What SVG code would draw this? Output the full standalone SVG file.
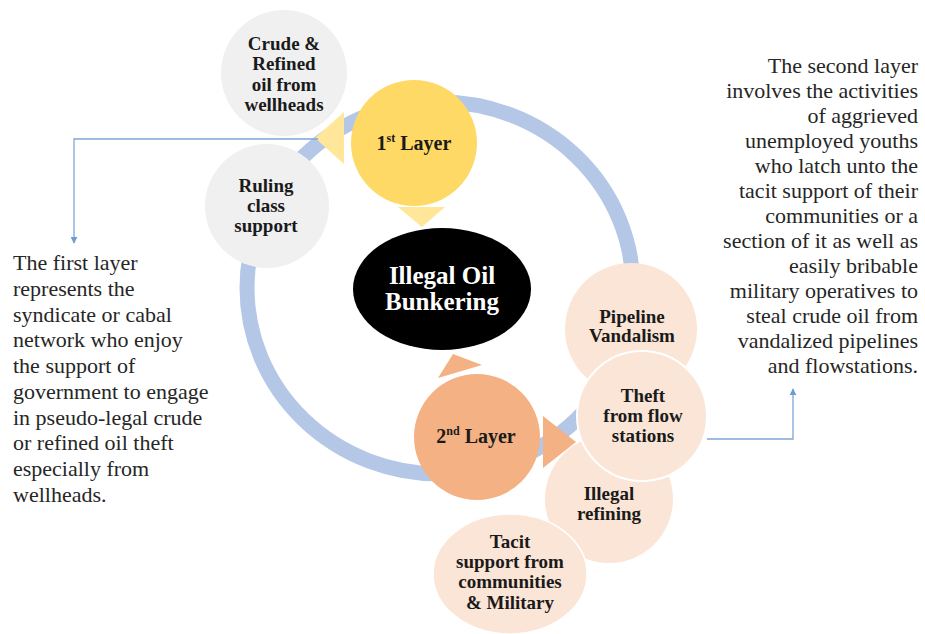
<svg xmlns="http://www.w3.org/2000/svg" width="925" height="634" viewBox="0 0 925 634">
<defs>
<style>
.lbl{font-family:"Liberation Serif","Times New Roman",serif;font-weight:bold;font-size:19px;fill:#1a1a1a;text-anchor:middle}
.big{font-family:"Liberation Serif","Times New Roman",serif;font-weight:bold;font-size:25px;fill:#ffffff;text-anchor:middle}
.desc{font-family:"Liberation Serif","Times New Roman",serif;font-size:22px;fill:#262626}
.gray{fill:#F0F0F0}
.peach{fill:#FBE5D6}
.conn{fill:none;stroke:#7FA7D9;stroke-width:1.3}
</style>
<marker id="arr" viewBox="0 0 10 10" refX="9" refY="5" markerWidth="7" markerHeight="7" orient="auto" markerUnits="userSpaceOnUse">
<path d="M0,0 L10,5 L0,10 Z" fill="#6E9BD3"/>
</marker>
</defs>
<rect width="925" height="634" fill="#ffffff"/>

<g id="ring">
<ellipse cx="440" cy="288" rx="193" ry="186" fill="none" stroke="#B4C7E7" stroke-width="15"/>
</g>

<g id="arrows">
<polygon points="315,138 344,112 344,164" fill="#FFE699"/>
<polygon points="398,207 445,207 422,227" fill="#FFE699"/>
<polygon points="453,354 482,365 438,378" fill="#F4B183"/>
<polygon points="543,416 576,442 543,468" fill="#F4B183"/>
</g>

<g id="node-crude">
<circle class="gray" cx="284" cy="73" r="63"/>
<text class="lbl"><tspan x="284" y="50">Crude &amp;</tspan><tspan x="284" y="70">Refined</tspan><tspan x="284" y="91">oil from</tspan><tspan x="284" y="111">wellheads</tspan></text>
</g>

<g id="node-ruling">
<circle class="gray" cx="267" cy="206" r="62"/>
<text class="lbl"><tspan x="266" y="192">Ruling</tspan><tspan x="266" y="212">class</tspan><tspan x="266" y="232">support</tspan></text>
</g>

<g id="node-layer1">
<circle cx="414" cy="143" r="63" fill="#FFD966"/>
<text class="lbl" x="414" y="150" style="font-size:20px">1<tspan font-size="12" dy="-8">st</tspan><tspan dy="8"> Layer</tspan></text>
</g>

<g id="node-center">
<ellipse cx="442" cy="289" rx="89" ry="61" fill="#000000"/>
<text class="big"><tspan x="442" y="284">Illegal Oil</tspan><tspan x="442" y="310">Bunkering</tspan></text>
</g>

<g id="node-pipeline">
<circle class="peach" cx="631" cy="329" r="66"/>
<text class="lbl"><tspan x="632" y="323">Pipeline</tspan><tspan x="632" y="342">Vandalism</tspan></text>
</g>

<g id="node-refining">
<circle class="peach" cx="609" cy="499" r="64"/>
<text class="lbl"><tspan x="609" y="500">Illegal</tspan><tspan x="609" y="520">refining</tspan></text>
</g>

<g id="node-theft">
<circle class="peach" cx="642" cy="416" r="65" stroke="#ffffff" stroke-width="2"/>
<text class="lbl"><tspan x="643" y="402">Theft</tspan><tspan x="643" y="422">from flow</tspan><tspan x="643" y="442">stations</tspan></text>
</g>

<g id="node-tacit">
<ellipse class="peach" cx="510" cy="574" rx="77" ry="60" stroke="#ffffff" stroke-width="1.5"/>
<text class="lbl"><tspan x="510" y="548">Tacit</tspan><tspan x="510" y="568">support from</tspan><tspan x="510" y="588">communities</tspan><tspan x="510" y="609">&amp; Military</tspan></text>
</g>

<g id="node-layer2">
<circle cx="477" cy="437" r="63" fill="#F4B183"/>
<text class="lbl" x="476" y="443" style="font-size:20px">2<tspan font-size="12" dy="-8">nd</tspan><tspan dy="8"> Layer</tspan></text>
</g>

<g id="desc-left">
<text class="desc"><tspan x="13" y="270">The first layer</tspan><tspan x="13" y="296">represents the</tspan><tspan x="13" y="322">syndicate or cabal</tspan><tspan x="13" y="347">network who enjoy</tspan><tspan x="13" y="373">the support of</tspan><tspan x="13" y="399">government to engage</tspan><tspan x="13" y="425">in pseudo-legal crude</tspan><tspan x="13" y="450">or refined oil theft</tspan><tspan x="13" y="476">especially from</tspan><tspan x="13" y="502">wellheads.</tspan></text>
</g>

<g id="desc-right">
<text class="desc" style="text-anchor:end"><tspan x="918" y="73">The second layer</tspan><tspan x="918" y="98">involves the activities</tspan><tspan x="918" y="123">of aggrieved</tspan><tspan x="918" y="148">unemployed youths</tspan><tspan x="918" y="173">who latch unto the</tspan><tspan x="918" y="198">tacit support of their</tspan><tspan x="918" y="223">communities or a</tspan><tspan x="918" y="248">section of it as well as</tspan><tspan x="918" y="273">easily bribable</tspan><tspan x="918" y="298">military operatives to</tspan><tspan x="918" y="323">steal crude oil from</tspan><tspan x="918" y="348">vandalized pipelines</tspan><tspan x="918" y="373">and flowstations.</tspan></text>
</g>

<g id="connectors">
<path class="conn" d="M318,139 H74 V243" marker-end="url(#arr)"/>
<path class="conn" d="M707,439 H793 V389" marker-end="url(#arr)"/>
</g>
</svg>
